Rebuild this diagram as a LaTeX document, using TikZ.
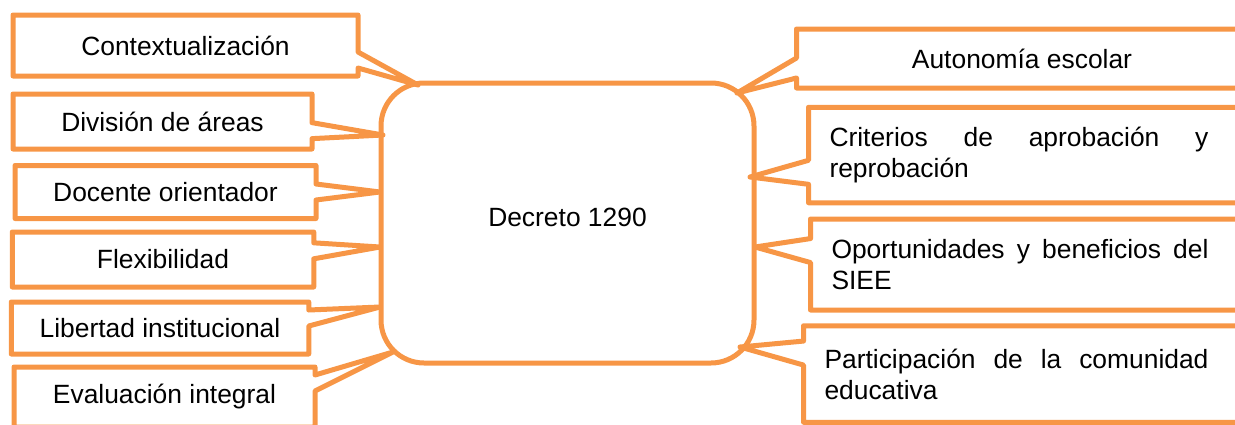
\documentclass[tikz,border=0pt]{standalone}
\usepackage{xcolor}
\usepackage{fontspec}
\setmainfont{Liberation Sans}
\usepackage{tikz}
\usetikzlibrary{shapes.callouts}
\definecolor{accent}{HTML}{F79646}
\hyphenpenalty=10000
\exhyphenpenalty=10000

\begin{document}
\begin{tikzpicture}[x=1pt, y=-1pt, font=\fontsize{26.4}{31}\selectfont,
  box/.style = {rectangle callout, draw=accent, fill=white, line width=5pt, line join=round},
  lbox/.style args = {#1,#2}{box, minimum width=#1pt, minimum height=#2pt, callout pointer width=16pt},
  rbox/.style args = {#1,#2}{box, anchor=west, text width=#1pt, minimum height=#2pt, inner xsep=21pt, align=justify, callout pointer width=24pt, execute at begin node=\rightskip 18pt\relax}]
\useasboundingbox (0,0) rectangle (1235,424);
\node (dec) [draw=accent, fill=white, line width=5pt, rounded corners=43pt, minimum width=373pt, minimum height=280pt, text depth=12pt] at (567.5,223) {Decreto 1290};
\coordinate (t1) at (418,85);
\coordinate (t2) at (383,135);
\coordinate (t3) at (380,192);
\coordinate (t4) at (380,247);
\coordinate (t5) at (380,307);
\coordinate (t6) at (393,352);
\coordinate (s1) at (737,93);
\coordinate (s2) at (750,177);
\coordinate (s3) at (755,247);
\coordinate (s4) at (740,347);
\node (ctx) [lbox={345,61}, callout absolute pointer={(t1)}] at (185.5,45.5) {Contextualización};
\node (div) [lbox={299,55}, callout absolute pointer={(t2)}] at (162.5,121.5) {División de áreas};
\node (doc) [lbox={301,53}, callout absolute pointer={(t3)}] at (165.5,192) {Docente orientador};
\node (flex) [lbox={301.5,55}, callout absolute pointer={(t4)}] at (163,259.5) {Flexibilidad};
\node (lib) [lbox={297.5,52}, callout absolute pointer={(t5)}] at (160,328) {Libertad institucional};
\node (eva) [lbox={301,60}, callout absolute pointer={(t6)}] at (164.5,397) {Evaluación integral};
\node (aut) [box, anchor=west, minimum width=451pt, minimum height=59pt, callout pointer width=20pt, callout absolute pointer={(s1)}] at (794,58.5) {Autonomía escolar};
\node (cri) [rbox={397,95.5}, callout absolute pointer={(s2)}] at (806,155) {Criterios de aprobación y reprobación};
\node (opo) [rbox={395,91}, callout absolute pointer={(s3)}] at (808,264.5) {Oportunidades y beneficios del SIEE};
\node (par) [rbox={402,96.5}, callout absolute pointer={(s4)}] at (801,374) {Participación de la comunidad educativa};
\end{tikzpicture}
\end{document}
